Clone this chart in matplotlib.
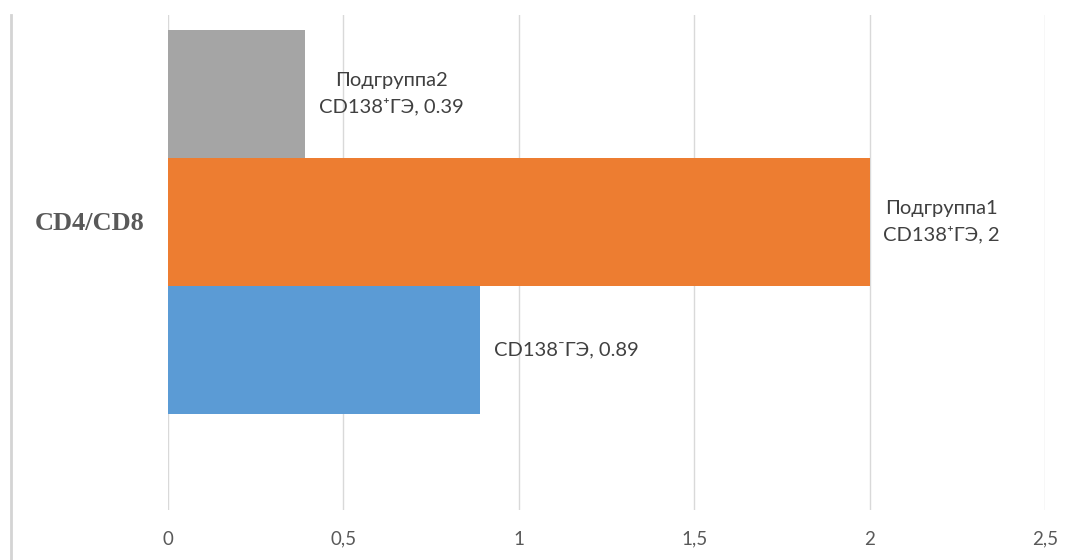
import matplotlib
matplotlib.use("Agg")
import matplotlib.pyplot as plt
from matplotlib.lines import Line2D

# data (bottom to top, as in the chart)
series = ["CD138\u207bГЭ", "Подгруппа1\nCD138\u207aГЭ", "Подгруппа2\nCD138\u207aГЭ"]
values = [0.89, 2, 0.39]
colors = ["#5B9BD5", "#ED7D31", "#A5A5A5"]
category = "CD4/CD8"
xticks = [0, 0.5, 1, 1.5, 2, 2.5]
xticklabels = ["0", "0,5", "1", "1,5", "2", "2,5"]

fonts = ["Lato", "DejaVu Sans"]

W, H = 1074, 560
fig = plt.figure(figsize=(W / 100, H / 100), dpi=100)
ax = fig.add_axes([168 / W, 1 - 510 / H, (1045 - 168) / W, (510 - 15) / H])

bar_h = 0.25
offsets = [-bar_h, 0, bar_h]
for off, v, c, name in zip(offsets, values, colors, series):
    ax.barh(off, v, height=bar_h, color=c, zorder=2)
    ax.annotate(f"{name}, {v:g}", xy=(v, off), xytext=(10, 0),
                textcoords="offset points", ha="left", va="center",
                multialignment="center", fontsize=14.5, color="#404040",
                family=fonts, linespacing=1.6)

ax.set_xlim(0, 2.5)
ax.set_ylim(-(510 - 221.5) / 512, (221.5 - 15) / 512)
ax.set_xticks(xticks)
ax.set_xticklabels(xticklabels, family=fonts, fontsize=13.5, color="#595959")
ax.set_yticks([0])
ax.set_yticklabels([category], family="Liberation Serif", fontweight="bold",
                   fontsize=19, color="#595959")
ax.tick_params(axis="x", length=0, pad=15)
ax.tick_params(axis="y", length=0, pad=17)
ax.grid(axis="x", color="#D9D9D9", lw=1, zorder=0)
for s in ax.spines.values():
    s.set_visible(False)

# left border line
fig.add_artist(Line2D([11 / W, 11 / W], [0, 1 - 15 / H], transform=fig.transFigure,
                      color="#D4D4D4", lw=2))

fig.savefig("out.png", dpi=100)
